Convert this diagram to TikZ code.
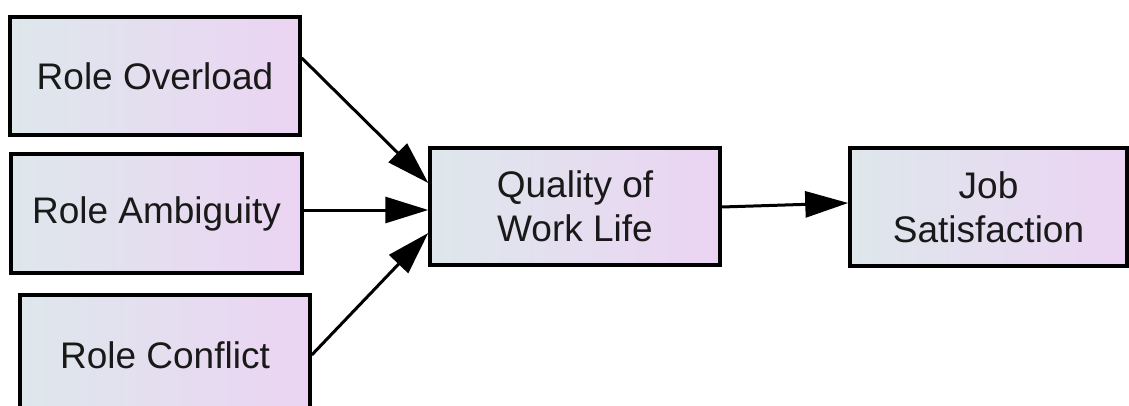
\documentclass[tikz,border=0pt]{standalone}
\usepackage{fontspec}
\setmainfont{Liberation Sans}
\usetikzlibrary{arrows.meta}
\definecolor{boxleft}{RGB}{222,231,236}
\definecolor{boxright}{RGB}{235,212,243}
\definecolor{txt}{RGB}{25,25,25}
\tikzset{
  varbox/.style={draw=black, line width=3.5pt, left color=boxleft, right color=boxright,
    inner sep=0pt, align=center, text=txt,
    font=\fontsize{37pt}{44pt}\selectfont},
  link/.style={line width=3pt, -{Triangle[length=43pt,width=26pt]}}
}
\begin{document}
\begin{tikzpicture}[x=1pt,y=-1pt]
\useasboundingbox (0,0) rectangle (1129,406);
\node[varbox, minimum width=290pt, minimum height=118pt] (ro) at (155,76) {Role Overload};
\node[varbox, minimum width=291pt, minimum height=119pt] (ra) at (156.5,213.5) {Role Ambiguity};
\node[varbox, minimum width=290pt, minimum height=120pt] (rc) at (165,355) {Role Conflict};
\node[varbox, minimum width=290pt, minimum height=117pt] (qw) at (575,206.5) {Quality of\\Work Life};
\node[varbox, minimum width=277pt, minimum height=118pt] (js) at (988.5,207) {Job\\Satisfaction};
\draw[link] ([yshift=18pt]ro.east) -- ([yshift=23.5pt]qw.west);
\draw[link] ([yshift=3.5pt]ra.east) -- ([yshift=-3.5pt]qw.west);
\draw[link] (rc.east) -- ([yshift=-26.5pt]qw.west);
\draw[link] ([yshift=-0.5pt]qw.east) -- ([yshift=4pt]js.west);
\end{tikzpicture}
\end{document}
